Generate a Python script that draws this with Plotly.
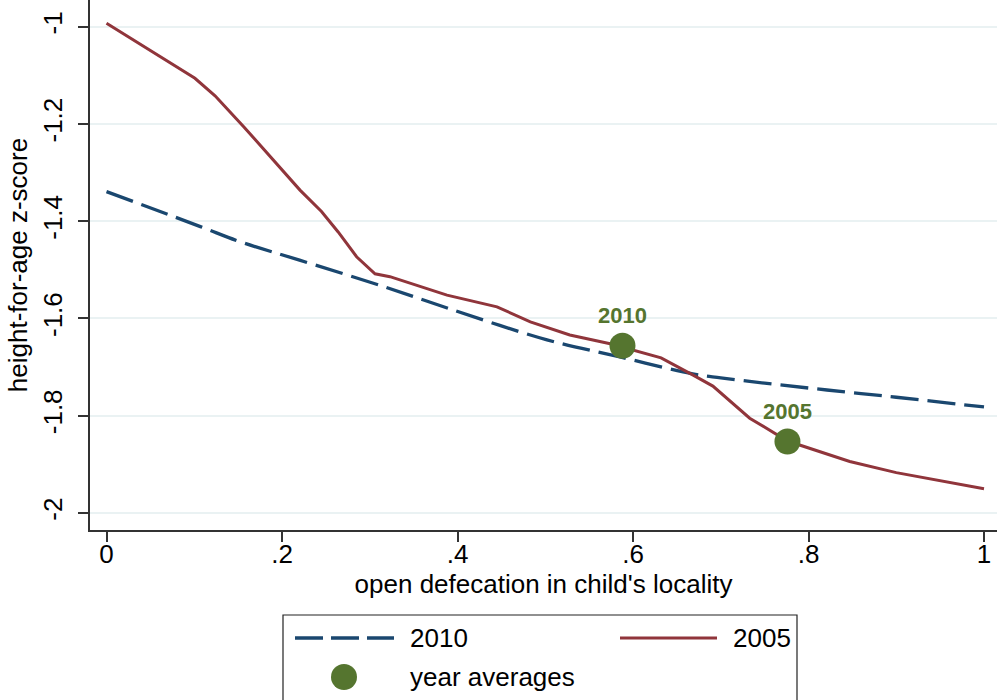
import plotly.graph_objects as go

# Open defecation share in child's locality vs. height-for-age z-score
x_2010 = [0.0, 0.107, 0.152, 0.22, 0.317, 0.391, 0.502, 0.585, 0.668, 0.70, 0.75, 0.80, 0.847, 0.90, 1.0]
y_2010 = [-1.339, -1.411, -1.442, -1.480, -1.535, -1.580, -1.644, -1.679, -1.714, -1.722, -1.733, -1.743, -1.752, -1.762, -1.782]

x_2005 = [0.0, 0.1008, 0.1237, 0.1566, 0.2205, 0.245, 0.264, 0.285, 0.306, 0.323, 0.388, 0.445,
          0.483, 0.528, 0.574, 0.632, 0.668, 0.691, 0.733, 0.776, 0.847, 0.90, 1.0]
y_2005 = [-0.993, -1.106, -1.142, -1.206, -1.336, -1.380, -1.422, -1.473, -1.508, -1.514, -1.552, -1.576,
          -1.607, -1.634, -1.652, -1.681, -1.716, -1.739, -1.805, -1.852, -1.894, -1.917, -1.950]

avg_labels = ["2010", "2005"]
avg_x = [0.588, 0.776]
avg_y = [-1.656, -1.853]

x_ticks = [0, 0.2, 0.4, 0.6, 0.8, 1.0]
x_tick_text = ["0", ".2", ".4", ".6", ".8", "1"]
y_ticks = [-1, -1.2, -1.4, -1.6, -1.8, -2]
y_tick_text = ["-1", "-1.2", "-1.4", "-1.6", "-1.8", "-2"]

NAVY = "#1a476f"
MAROON = "#90353b"
GREEN = "#55752f"
FONT = "Liberation Sans, Arial, sans-serif"
TXT = 26

W, H = 997, 700
L, R, T, B = 90, 0, 0, 170


def px_x(px):
    return (px - L) / (W - L - R)


def px_y(py):
    return (H - B - py) / (H - B - T)


fig = go.Figure()
fig.add_trace(go.Scatter(x=x_2010, y=y_2010, mode="lines", name="2010",
                         line=dict(color=NAVY, width=3.3, dash="28px,9px"),
                         line_shape="spline", hoverinfo="skip"))
fig.add_trace(go.Scatter(x=x_2005, y=y_2005, mode="lines", name="2005",
                         line=dict(color=MAROON, width=3), hoverinfo="skip"))
fig.add_trace(go.Scatter(x=avg_x, y=avg_y, mode="markers+text", name="year averages",
                         text=avg_labels, textposition="top center",
                         textfont=dict(family=FONT, size=22, color=GREEN, weight="bold"),
                         marker=dict(color=GREEN, size=26)))

# Legend box drawn in paper coordinates
shapes = [
    dict(type="rect", xref="paper", yref="paper",
         x0=px_x(283), x1=px_x(797), y0=px_y(710), y1=px_y(615),
         line=dict(color="#222222", width=1.2), fillcolor="rgba(0,0,0,0)"),
    dict(type="line", xref="paper", yref="paper",
         x0=px_x(295), x1=px_x(394), y0=px_y(638), y1=px_y(638),
         line=dict(color=NAVY, width=3.3, dash="28px,8px")),
    dict(type="line", xref="paper", yref="paper",
         x0=px_x(620), x1=px_x(717), y0=px_y(638), y1=px_y(638),
         line=dict(color=MAROON, width=3)),
    dict(type="circle", xref="paper", yref="paper",
         x0=px_x(331), x1=px_x(357), y0=px_y(690), y1=px_y(664),
         line=dict(color=GREEN, width=0), fillcolor=GREEN),
]
legend_text = [("2010", 408, 638), ("2005", 731, 638), ("year averages", 408, 677)]
annotations = [
    dict(text=t, xref="paper", yref="paper", x=px_x(px), y=px_y(py),
         xanchor="left", yanchor="middle", showarrow=False,
         font=dict(family=FONT, size=TXT, color="black"))
    for t, px, py in legend_text
]

fig.update_layout(
    width=W, height=H,
    margin=dict(l=L, r=R, t=T, b=B),
    paper_bgcolor="white", plot_bgcolor="white",
    showlegend=False,
    font=dict(family=FONT, size=TXT, color="black"),
    shapes=shapes, annotations=annotations,
)
fig.update_xaxes(range=[-0.0188, 1.0148], tickvals=x_ticks, ticktext=x_tick_text,
                 showgrid=False, zeroline=False,
                 showline=True, linecolor="#333333", linewidth=2,
                 ticks="outside", ticklen=10, tickwidth=2, tickcolor="#333333",
                 tickfont=dict(size=TXT), ticklabelstandoff=-10,
                 title=dict(text="open defecation in child's locality", font=dict(size=TXT), standoff=2))
fig.update_yaxes(range=[-2.035, -0.945], tickvals=y_ticks, ticktext=y_tick_text,
                 showgrid=True, gridcolor="#eaf2f3", gridwidth=2, zeroline=False,
                 showline=True, linecolor="#333333", linewidth=2,
                 ticks="outside", ticklen=10, tickwidth=2, tickcolor="#333333",
                 tickangle=-90, tickfont=dict(size=TXT), ticklabelstandoff=6,
                 title=dict(text="height-for-age z-score", font=dict(size=TXT), standoff=2))

fig.write_html("out.html")
